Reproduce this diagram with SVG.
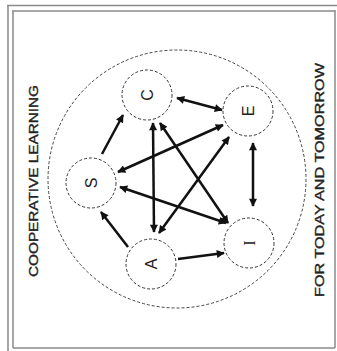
<svg xmlns="http://www.w3.org/2000/svg" width="337" height="351" viewBox="0 0 337 351">
<style>
.frame{stroke:#8a8a8a;stroke-width:1.5;fill:none}
.node{fill:#fff;stroke:#333;stroke-width:1;stroke-dasharray:3 2}
.lbl{font-family:"Liberation Sans",Arial,sans-serif;font-size:16px;fill:#222;text-anchor:middle}
.title{font-family:"Liberation Sans",Arial,sans-serif;font-size:13px;fill:#222;stroke:#222;stroke-width:0.35;text-anchor:middle}
.arr{stroke:#111;stroke-width:2.5;fill:none}
</style>
<defs>
<marker id="ah" viewBox="0 0 10 10" refX="9" refY="5" markerUnits="userSpaceOnUse" markerWidth="9" markerHeight="8" orient="auto-start-reverse">
<path d="M0,0 L10,5 L0,10 z" fill="#111"/>
</marker>
</defs>
<rect width="337" height="351" fill="#fff"/>
<g id="frame">
<line class="frame" x1="7" y1="5.5" x2="337" y2="5.5"/>
<line class="frame" x1="12" y1="11" x2="335" y2="11"/>
<line class="frame" x1="8" y1="5" x2="8" y2="351"/>
<line class="frame" x1="13" y1="11" x2="13" y2="348"/>
<line class="frame" x1="335" y1="10" x2="335" y2="348"/>
<line class="frame" x1="13" y1="348" x2="335" y2="348"/>
</g>
<circle cx="177" cy="179" r="129" fill="none" stroke="#444" stroke-width="1" stroke-dasharray="3 2"/>
<text class="title" x="38" y="181" transform="rotate(-90 38 181)" textLength="192" lengthAdjust="spacingAndGlyphs">COOPERATIVE LEARNING</text>
<text class="title" x="324" y="180" transform="rotate(-90 324 180)" textLength="234" lengthAdjust="spacingAndGlyphs">FOR TODAY AND TOMORROW</text>
<g id="connectors">
<line class="arr" x1="177" y1="98" x2="222" y2="110" marker-start="url(#ah)" marker-end="url(#ah)"/>
<line class="arr" x1="253" y1="143" x2="253" y2="206" marker-start="url(#ah)" marker-end="url(#ah)"/>
<line class="arr" x1="102" y1="154" x2="123" y2="115" marker-end="url(#ah)"/>
<line class="arr" x1="128" y1="247" x2="101" y2="212" marker-end="url(#ah)"/>
<line class="arr" x1="178" y1="259" x2="224" y2="253" marker-end="url(#ah)"/>
<line class="arr" x1="153" y1="123" x2="154" y2="232" marker-start="url(#ah)" marker-end="url(#ah)"/>
<line class="arr" x1="160" y1="123" x2="228" y2="223" marker-start="url(#ah)" marker-end="url(#ah)"/>
<line class="arr" x1="223" y1="125" x2="118" y2="172" marker-start="url(#ah)" marker-end="url(#ah)"/>
<line class="arr" x1="229" y1="137" x2="159" y2="233" marker-start="url(#ah)" marker-end="url(#ah)"/>
<line class="arr" x1="120" y1="187" x2="226" y2="223" marker-start="url(#ah)" marker-end="url(#ah)"/>
</g>
<g id="node-C"><circle class="node" cx="147" cy="95" r="25"/><text class="lbl" x="153" y="95" transform="rotate(-90 153 95)">C</text></g>
<g id="node-E"><circle class="node" cx="248" cy="111" r="25"/><text class="lbl" x="254" y="111" transform="rotate(-90 254 111)">E</text></g>
<g id="node-S"><circle class="node" cx="91" cy="183" r="25"/><text class="lbl" x="97" y="183" transform="rotate(-90 97 183)">S</text></g>
<g id="node-I"><circle class="node" cx="249" cy="243" r="25"/><text class="lbl" x="255" y="243" transform="rotate(-90 255 243)" style="font-family:'Liberation Serif',serif">I</text></g>
<g id="node-A"><circle class="node" cx="151" cy="264" r="25"/><text class="lbl" x="157" y="264" transform="rotate(-90 157 264)">A</text></g>
</svg>
